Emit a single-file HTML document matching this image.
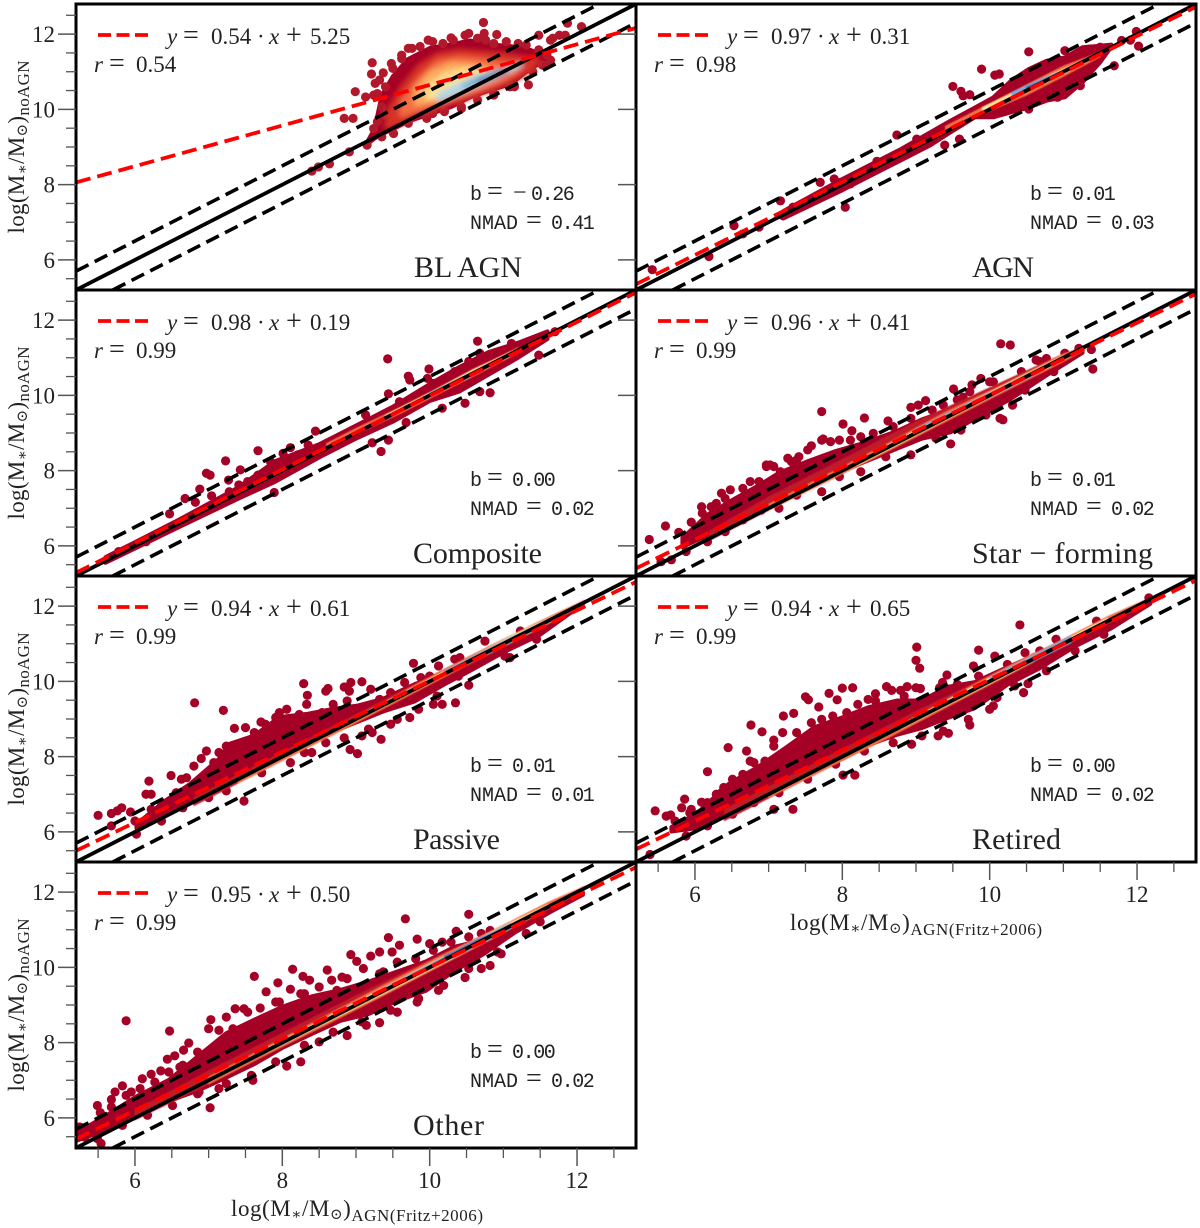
<!DOCTYPE html>
<html lang="en">
<head>
<meta charset="utf-8">
<title>Stellar mass comparison by galaxy class</title>
<style>
html,body{margin:0;padding:0;background:#fff}
svg{display:block}
text{font-family:"Liberation Serif","DejaVu Serif",serif;fill:#222}
.mono{font-family:"Liberation Mono","DejaVu Sans Mono",monospace}
</style>
</head>
<body>
<svg id="figure" xmlns="http://www.w3.org/2000/svg" width="1200" height="1228" viewBox="0 0 1200 1228">
  <defs>
    <filter id="soft-strong" x="-10%" y="-10%" width="120%" height="120%"><feGaussianBlur stdDeviation="3"/></filter>
    <filter id="soft-light" x="-5%" y="-5%" width="110%" height="110%"><feGaussianBlur stdDeviation="0.6"/></filter>
  </defs>
  <rect width="1200" height="1228" fill="#fff"/>
  <g id="panels"></g>
  <g id="labels">
    <text x="414" y="277" font-size="30" textLength="108">BL AGN</text>
    <text x="972" y="277" font-size="30" textLength="62">AGN</text>
    <text x="413" y="563" font-size="30" textLength="129">Composite</text>
    <text x="972" y="563" font-size="30" textLength="181">Star − forming</text>
    <text x="413" y="849" font-size="30" textLength="87">Passive</text>
    <text x="972" y="849" font-size="30" textLength="89">Retired</text>
    <text x="413" y="1135" font-size="30" textLength="71">Other</text>

    <text transform="translate(24,147) rotate(-90)" text-anchor="middle" font-size="23" textLength="173">log(M<tspan font-size="15" dy="3">∗</tspan><tspan dy="-3">/M</tspan><tspan font-size="15" dy="3">⊙</tspan><tspan dy="-3">)</tspan><tspan font-size="17" dy="5">noAGN</tspan></text>
    <text transform="translate(24,433) rotate(-90)" text-anchor="middle" font-size="23" textLength="173">log(M<tspan font-size="15" dy="3">∗</tspan><tspan dy="-3">/M</tspan><tspan font-size="15" dy="3">⊙</tspan><tspan dy="-3">)</tspan><tspan font-size="17" dy="5">noAGN</tspan></text>
    <text transform="translate(24,719) rotate(-90)" text-anchor="middle" font-size="23" textLength="173">log(M<tspan font-size="15" dy="3">∗</tspan><tspan dy="-3">/M</tspan><tspan font-size="15" dy="3">⊙</tspan><tspan dy="-3">)</tspan><tspan font-size="17" dy="5">noAGN</tspan></text>
    <text transform="translate(24,1005) rotate(-90)" text-anchor="middle" font-size="23" textLength="173">log(M<tspan font-size="15" dy="3">∗</tspan><tspan dy="-3">/M</tspan><tspan font-size="15" dy="3">⊙</tspan><tspan dy="-3">)</tspan><tspan font-size="17" dy="5">noAGN</tspan></text>

    <text x="231" y="1216" font-size="23" textLength="252">log(M<tspan font-size="15" dy="3">∗</tspan><tspan dy="-3">/M</tspan><tspan font-size="15" dy="3">⊙</tspan><tspan dy="-3">)</tspan><tspan font-size="17" dy="5">AGN(Fritz+2006)</tspan></text>
    <text x="790" y="930" font-size="23" textLength="252">log(M<tspan font-size="15" dy="3">∗</tspan><tspan dy="-3">/M</tspan><tspan font-size="15" dy="3">⊙</tspan><tspan dy="-3">)</tspan><tspan font-size="17" dy="5">AGN(Fritz+2006)</tspan></text>
  </g>
</svg>
<script>
/* ---------- tick values ---------- */
const majorTicks = [6, 8, 10, 12];
const minorTicks = [5.5, 6.5, 7, 7.5, 8.5, 9, 9.5, 10.5, 11, 11.5, 12.5];

/* ---------- fit statistics, one entry per panel ---------- */
const fitSlopes = [0.54, 0.97, 0.98, 0.96, 0.94, 0.94, 0.95];
const fitIntercepts = [5.25, 0.31, 0.19, 0.41, 0.61, 0.65, 0.50];
const fitR = [0.54, 0.98, 0.99, 0.99, 0.99, 0.99, 0.99];
const biasValues = [-0.26, 0.01, 0.00, 0.01, 0.01, 0.00, 0.00];
const nmadValues = [0.41, 0.03, 0.02, 0.02, 0.01, 0.02, 0.02];
const panelKeys = ['bl-agn', 'agn', 'composite', 'star-forming', 'passive', 'retired', 'other'];

/* ---------- individually visible points ---------- */
const blX = [8.40,8.49,8.64,8.91,8.84,8.96,8.99,9.13,9.24,9.22,9.21,9.26,9.37,9.5,9.98,10.29,10.53,10.73,10.74,10.91,10.76,11.34,12.06,11.87,11.67,11.76,11.84,11.48,11.64,11.53,11.37,11.09,11.04,11.2,9.71,9.62,10.04,10.43,10.87,11.64];
const blY = [8.36,8.47,8.55,8.87,9.76,9.76,10.47,10.33,10.38,11.24,10.94,10.69,10.97,11.09,11.84,11.9,12.02,12.31,12.02,11.99,11.84,10.65,12.2,12.29,11.89,11.97,11.97,11.97,11.31,11.18,11.09,10.6,11.8,11.75,11.62,11.35,9.89,10.07,10.42,11.84];
const blEdgeX = [9.32,9.48,9.62,9.76,9.87,10.04,10.18,10.32,10.48,10.65,10.87,11.31,11.48,11.59,9.29,9.4,9.35,9.29,9.37,9.24,9.15,9.35,9.51,9.71,9.96,10.2,10.43,10.65,10.87,11.15,11.4,11.59];
const blEdgeY = [10.78,11.22,11.44,11.62,11.67,11.8,11.75,11.84,11.97,11.89,11.75,11.71,11.58,11.44,10.42,10.6,10.07,9.67,9.85,9.49,9.05,9.27,9.36,9.63,9.76,9.94,10.02,10.25,10.38,10.6,11,11.18];

const agnX = [5.42,6.19,6.53,7.16,8.04,7.7,7.89,7.94,8.74,9.59,9.39,9.5,9.61,9.64,9.73,9.89,10.07,10.13,10.53,11.02,12.02,11.99,11.69,9.01,9.25,8.47,8.74,8.93,7.33,7.19,6.87,6.65,8.11,11.23,10.92,10.53,11.5,11.36,11.79,11.91];
const agnY = [5.74,6.09,6.91,7.57,7.4,8.06,8.15,8.06,9.32,9.21,9.05,10.61,10.48,10.36,10.39,11.07,10.91,10.94,11.53,11.56,11.68,12.07,11.16,9.21,9.36,8.62,8.81,8.9,7.4,7.18,6.87,6.69,8.02,10.63,10.32,10.01,11.65,11.6,11.83,11.84];
const agnEdgeX = [];
const agnEdgeY = [];

const compX = [6.47,6.68,6.82,6.88,7.04,6.97,7.02,7.23,7.27,7.41,7.43,7.67,7.89,8.11,8.45,9.22,9.34,9.44,9.43,9.71,9.73,9.99,9.68,10.65,10.82,10.48,11.48,9.97,10.17,9.13,9.44,8.71,8.35,8.21,8.01,7.84,7.67,7.53,7.28,7.14,6.9,6.75,6.58,6.15,5.78,9.59,10.34,10.53,10.68,11.11,11.5,11.7,10.05,10.68];
const compY = [6.85,7.26,7.16,7.51,7.33,7.93,7.88,8.26,7.75,7.62,8.02,8.53,7.42,8.61,9.05,8.74,8.51,8.81,10.97,10.51,10.41,10.7,9.28,11.44,10.07,9.79,11.07,10.45,9.66,9.48,10.04,8.81,8.68,8.42,8.46,8.24,7.88,7.71,7.44,7.13,6.87,6.73,6.56,6.11,5.85,9.83,10.63,10.9,11.12,11.38,11.52,11.69,10.32,10.1];
const compEdgeX = [];
const compEdgeY = [];

const sfX = [5.38,5.6,5.78,5.95,6.09,6.36,6.48,6.22,6.97,7.02,7.26,7.31,7.41,7.58,7.72,7.74,8.01,8.13,8.3,8.62,8.25,8.93,9.03,9.13,9.51,9.64,9.88,10,10.15,10.28,9.76,10.14,10.18,10.31,11.4,11.38,9.47,8.93,9.61,8.25,7.72,7.14,5.68,5.54,10.63,10.77,11.02,11.21,8.54,8.84];
const sfY = [6.17,6.53,6.36,6.63,7.04,7.4,7.49,7.04,8.15,8.15,8.33,8.24,8.37,8.66,9.57,8.84,9.24,9.06,9.4,9.32,8.9,9.68,9.74,9.86,10.17,9.95,10.45,10.36,11.37,11.34,10.28,9.39,9.35,9.74,10.7,11.22,8.71,8.42,9.08,7.97,7.44,7,5.63,5.58,10.94,10.98,11.12,11.25,8.64,8.81];
const sfEdgeX = [6.10,6.29,6.41,6.65,6.75,6.87,6.97,7.07,7.16,7.38,7.53,7.72,7.84,7.96,8.11,8.42,8.69,8.93,9.22,9.37,9.56,9.73,10.05,10.43,10.68,5.88,6.17,6.41,6.65,6.9,7.38,7.96,8.59,9.27,9.95,10.48,10.87];
const sfEdgeY = [6.87,7.13,7.26,7.53,7.71,7.71,8.11,8.11,7.97,8.28,8.55,8.81,8.77,8.81,8.81,8.99,9.17,9.39,9.61,9.74,9.88,10.1,10.36,10.63,10.9,5.85,6.11,6.38,6.69,6.95,7.35,7.84,8.37,8.86,9.48,10.14,10.63];

const passX = [5.5,5.68,5.68,5.82,5.76,5.94,6.19,6.15,6.22,6.49,6.9,6.97,6.81,7.2,7.35,7.5,7.71,8.29,8.34,8.59,8.62,8.84,8.93,9.08,8.91,9.2,9.78,10.35,10.17,10.05,9.34,8.92,9.02,7.48,9.47,9.73,10.53,10.12,10.41,10.75,11.23,11.09,8.06,7.91,8.33,8.69,9.27,9.66,10,6.7,6.8,8.3,8.59,9.08,9.17];
const passY = [6.44,6.16,6.49,6.64,6.56,6.53,7.35,7,7,7.5,7.95,8.15,9.43,9.23,8.75,8.77,8.92,9.94,9.63,9.74,9.81,9.85,9.97,9.99,9.74,9.79,10.48,9.43,9.39,9.39,8.46,8.19,8.08,6.82,8.86,9.04,9.9,10.41,10.63,11.07,11.34,10.63,9.26,9.04,9.39,9.39,9.35,9.97,10.14,7.44,7.75,8.11,8.37,8.55,8.73];
const passEdgeX = [6,6.22,6.36,6.56,6.63,7.07,7.14,7.24,7.62,7.77,7.96,8.23,8.54,8.88,9.32,9.47,9.88,10.34,6.02,6.36,6.65,7.0,7.24,7.72,8.11,8.4,8.84,9.22,9.56,9.85,10.1,10.39,11.02,11.45];
const passEdgeY = [6.29,6.6,6.78,7.04,7.4,7.84,8.11,8.28,8.64,8.86,9.17,9.12,9.17,9.48,9.52,9.7,10.1,10.59,5.94,6.29,6.64,6.91,7.09,7.57,7.84,8.11,8.5,8.64,8.99,9.26,9.61,10.14,10.67,11.12];

const retX = [5.46,5.61,5.67,5.39,5.82,5.86,5.95,6.09,6.17,6.29,6.39,6.45,6.7,6.76,6.91,7.07,7.2,7.34,7.5,7.54,7.68,7.82,7.93,8,8.14,8.45,8.6,8.67,8.79,8.88,9,9.06,9.01,9,9.05,9.36,9.42,9.85,10.07,10.41,9.78,10.48,10.46,10.52,10,9.73,9.44,9.3,8.94,8.17,8.01,7.33,7.07,10.05,10.1,8.21,8.35,7.58,7.19,6.75,6.51,10.68,10.9,11.45,12.16];
const retY = [6.56,6.42,6.45,5.4,6.64,6.87,6.6,6.79,7.6,7,7.18,8.24,8.15,8.84,8.66,8.44,9.08,9.15,9.59,9.51,9.32,9.68,9.51,9.82,9.83,9.67,9.86,9.76,9.76,9.86,9.83,9.81,10.91,10.56,10.35,9.97,10.17,10.83,10.67,11.5,10.41,10.76,9.7,9.94,9.26,8.84,8.62,8.55,8.33,7.51,7.51,6.6,6.6,9.7,9.57,9.39,9.52,8.9,8.64,7.88,7.4,10.81,11.12,11.6,12.22];
const retEdgeX = [5.73,5.93,6.17,6.36,6.65,6.8,6.95,7.07,7.38,7.72,7.87,8.06,8.45,8.84,9.32,9.56,9.85,10.24,5.88,6.17,6.51,6.8,7.14,7.53,7.91,8.3,8.69,9.08,9.37,9.71,10.05,10.34,10.77,11.16,11.55];
const retEdgeY = [6.29,6.51,6.78,7.04,7.53,7.84,7.88,8.28,8.64,8.99,9.08,9.17,9.48,9.61,9.83,9.92,10.14,10.45,5.89,6.16,6.47,6.78,7.04,7.4,7.8,8.15,8.37,8.55,8.68,8.99,9.35,9.88,10.28,10.81,11.25];

const othX = [5.25,5.49,5.53,5.68,5.73,5.83,5.88,6.1,6.22,6.35,6.47,6.44,6.54,6.66,6.73,7.02,7,7.03,7.24,7.36,7.48,7.7,7.62,7.78,7.94,8.14,8.11,8.28,8.37,8.61,8.67,8.81,8.93,9.01,9.1,9.2,9.32,9.44,9.59,9.49,9.67,9.83,10,10.17,10.36,10.53,10.7,10.82,10.48,10.12,9.83,9.56,9.32,9.14,8.88,8.25,8.06,7.6,10.97,10.7,11.5,5.32,5.54,9.37,8.74,8.25,7.96,7.33,6.85,6.61,6.27,5.95,6.87,7.14,8.5,11.16];
const othY = [5.76,6.33,6.14,6.49,6.69,6.85,8.58,7.04,7.16,7.25,8.31,7.56,7.65,7.8,7.99,6.27,8.37,8.61,8.68,8.9,8.9,8.92,9.76,9.35,9.59,9.95,9.42,9.76,9.66,9.93,9.66,9.74,10.34,10.16,9.97,10.3,10.41,10.79,10.59,10.41,11.29,10.75,10.63,10.67,10.96,11.41,9.97,10.05,9.73,9.39,9.08,8.81,8.53,8.46,8.19,7.49,7.38,7,10.36,10.9,11.21,5.49,5.32,9.88,9.39,9.3,9.08,8.37,7.75,7.35,6.95,6.69,6.69,6.78,8.02,11.12];
const othEdgeX = [5.68,5.88,6.07,6.46,6.65,7.14,7.53,7.91,8.3,8.5,8.88,9.32,9.56,9.81,10.05,10.29,10.53,10.82,5.49,5.83,6.17,6.51,6.85,7.24,7.58,7.91,8.3,8.69,9.08,9.47,9.85,10.19,10.53,10.92,11.31];
const othEdgeY = [6.29,6.6,6.78,7.22,7.4,8.33,8.81,9.08,9.3,9.48,9.7,9.83,10.14,10.23,10.45,10.67,10.81,10.98,5.45,5.8,6.07,6.33,6.64,6.91,7.13,7.49,7.93,8.28,8.55,8.86,9.17,9.52,9.97,10.41,10.9];

/* ---------- dense regions: outer envelope ---------- */
const blCloudX = [9.15,9.25,9.35,9.5,9.7,10,10.3,10.55,10.8,11.1,11.37,11.6];
const blCloudLo = [9.0,9.1,9.22,9.35,9.55,9.75,9.95,10.2,10.37,10.55,10.96,11.22];
const blCloudHi = [9.2,9.6,10.5,11.0,11.45,11.75,11.85,11.95,11.85,11.8,11.7,11.5];

const agnCloudX = [7.2,8.0,8.8,9.2,9.47,9.8,10.05,10.29,10.53,10.77,11.02,11.26,11.5,11.65];
const agnCloudLo = [7.1,7.85,8.65,9.05,9.39,9.79,9.79,9.92,10.05,10.23,10.32,10.72,11.25,11.66];
const agnCloudHi = [7.3,8.15,8.95,9.4,9.7,10.05,10.32,10.76,11.07,11.29,11.38,11.65,11.69,11.72];

const compCloudX = [5.6,6.6,7.4,7.9,8.5,9.0,9.5,10.0,10.4,10.8,11.2,11.6];
const compCloudLo = [5.55,6.5,7.25,7.7,8.35,8.85,9.3,9.85,10.1,10.55,11.0,11.5];
const compCloudHi = [5.7,6.7,7.55,8.25,8.7,9.2,9.7,10.3,10.75,11.15,11.4,11.7];

const sfCloudX = [5.83,6.17,6.56,6.85,7.14,7.53,7.91,8.3,8.74,9.08,9.47,9.8,10.29,10.77,11.26];
const sfCloudLo = [5.85,6.16,6.56,6.87,7.13,7.44,7.8,8.11,8.46,8.73,8.9,9.26,9.79,10.41,11.07];
const sfCloudHi = [6.33,6.95,7.4,7.71,8.06,8.37,8.64,8.86,9.17,9.48,9.74,10.01,10.41,10.81,11.25];

const passCloudX = [6.02,6.41,6.75,7.14,7.28,7.62,7.96,8.35,8.69,9.03,9.37,9.8,10.19,10.53,11.02,11.5,11.99];
const passCloudLo = [5.98,6.38,6.69,7.04,7.13,7.49,7.84,8.24,8.55,8.81,9.08,9.35,9.79,10.14,10.67,11.12,11.83];
const passCloudHi = [6.33,6.95,7.4,8.06,8.46,8.68,9.17,9.26,9.39,9.48,9.66,10.05,10.32,10.67,11.16,11.56,12.09];

const retCloudX = [5.68,6.02,6.46,6.85,7.24,7.62,8.01,8.35,8.74,9.08,9.42,9.8,10.24,10.68,11.16,11.65,12.18];
const retCloudLo = [5.89,5.98,6.42,6.78,7.13,7.49,7.84,8.19,8.46,8.64,8.9,9.17,9.79,10.23,10.81,11.29,11.96];
const retCloudHi = [6.25,6.6,7.4,7.84,8.37,8.9,9.17,9.43,9.61,9.61,9.97,10.1,10.5,10.85,11.29,11.69,12.22];

const othCloudX = [5.2,5.59,6.02,6.46,6.85,7.24,7.62,8.01,8.4,8.79,9.17,9.56,9.95,10.34,10.73,11.16,11.65,12.08];
const othCloudLo = [5.27,5.54,5.98,6.33,6.6,6.95,7.31,7.75,8.11,8.46,8.64,8.99,9.26,9.79,10.23,10.81,11.38,11.87];
const othCloudHi = [5.71,6.16,6.69,7.13,7.75,8.37,8.73,9.08,9.35,9.52,9.74,10.01,10.28,10.67,10.85,11.25,11.65,12.05];

/* ---------- density levels inside each cloud ---------- */
const densityColors = ['#d73027','#f46d43','#fdae61','#fee090','#abd9e9','#74add1','#4575b4','#bf1a2b'];

const blBandLevels = [0,1,2,3,4,5,6];
const blBandX = [[9.4,9.6,9.85,10.1,10.4,10.7,11,11.3,11.5],[9.6,9.85,10.1,10.4,10.7,11,11.2],[9.8,10.0,10.3,10.6,10.9],[9.95,10.2,10.5,10.8],[10.1,10.4,10.7,11,11.25],[10.45,10.75,11.05],[10.65,10.85,11.05]];
const blBandLo = [[9.45,9.6,9.85,10.0,10.2,10.4,10.62,10.9,11.25],[9.8,9.95,10.1,10.3,10.5,10.75,11.0],[10.1,10.2,10.38,10.6,10.8],[10.25,10.33,10.52,10.78],[10.2,10.42,10.66,10.92,11.15],[10.55,10.75,10.98],[10.7,10.84,11.0]];
const blBandHi = [[9.9,10.6,11.2,11.5,11.6,11.55,11.5,11.4,11.35],[10.2,10.85,11.3,11.4,11.35,11.25,11.2],[10.55,11.0,11.25,11.2,11.05],[10.6,10.95,11.1,11.0],[10.4,10.7,10.95,11.08,11.22],[10.68,10.93,11.1],[10.8,10.94,11.05]];

const agnBandLevels = [1,3,5,6];
const agnBandX = [[9.4,9.9,10.5,11.0,11.5],[9.9,10.4,10.9,11.3],[10.3,10.6,10.95],[10.5,10.75,10.95]];
const agnBandLo = [[9.42,9.88,10.38,10.88,11.4],[9.92,10.38,10.85,11.26],[10.35,10.6,10.92],[10.55,10.72,10.93]];
const agnBandHi = [[9.55,10.05,10.65,11.15,11.52],[10.05,10.52,10.98,11.32],[10.45,10.72,11.0],[10.6,10.8,10.98]];

const compBandLevels = [1,3,5];
const compBandX = [[8.6,9,9.6,10.1,10.7,11.2],[9.4,10,10.6,11.1],[10.0,10.4,10.7]];
const compBandLo = [[8.6,8.97,9.52,10.02,10.62,11.13],[9.38,9.97,10.58,11.05],[10.0,10.36,10.63]];
const compBandHi = [[8.72,9.12,9.68,10.17,10.78,11.27],[9.47,10.07,10.7,11.15],[10.06,10.44,10.7]];

const sfBandLevels = [7,1,3,5];
const sfBandX = [[6.2,7,8,9,10,11],[7.0,7.8,8.6,9.4,10.2,11,11.3],[8.2,9,9.8,10.4,11],[9,9.6,10.2,10.7]];
const sfBandLo = [[6.15,6.95,7.95,8.95,9.95,10.95],[6.95,7.72,8.5,9.3,10.1,10.9,11.22],[8.14,8.95,9.76,10.35,10.95],[9.02,9.58,10.14,10.65]];
const sfBandHi = [[6.4,7.3,8.3,9.3,10.2,11.1],[7.1,7.9,8.7,9.55,10.3,11.1,11.3],[8.22,9.07,9.88,10.47,11.05],[9.1,9.68,10.25,10.73]];

const passBandLevels = [7,1,3,5,6];
const passBandX = [[6.8,7.6,8.4,9.2,10,10.8,11.5,12.1],[7.4,8.2,9,9.8,10.6,11.4,12.1],[9,9.8,10.6,11.2,11.7],[10.2,10.8,11.3,11.6],[10.5,11,11.4]];
const passBandLo = [[6.7,7.5,8.3,9.1,9.9,10.7,11.4,12.05],[7.3,8.1,8.9,9.72,10.55,11.33,12.05],[8.97,9.77,10.58,11.14,11.66],[10.2,10.75,11.24,11.55],[10.52,10.98,11.38]];
const passBandHi = [[6.92,7.72,8.52,9.32,10.12,10.92,11.6,12.15],[7.38,8.2,9.03,9.9,10.72,11.5,12.15],[9.03,9.85,10.68,11.3,11.74],[10.27,10.87,11.36,11.6],[10.56,11.04,11.42]];

const retBandLevels = [7,1,3,5,6];
const retBandX = [[6.4,7.2,8,9,10,10.6],[7,7.8,8.6,9.4,10.2,11,11.6,12.1],[8.8,9.6,10.4,11,11.6],[10,10.6,11.1],[10.7,11.0,11.2]];
const retBandLo = [[6.3,7.1,7.9,8.9,9.9,10.5],[6.92,7.7,8.48,9.3,10.12,10.95,11.55,12.05],[8.76,9.55,10.35,10.95,11.58],[10.02,10.54,11.02],[10.68,10.98,11.18]];
const retBandHi = [[6.6,7.4,8.2,9.2,10.15,10.75],[7.02,7.82,8.62,9.5,10.35,11.12,11.72,12.15],[8.82,9.68,10.5,11.08,11.68],[10.1,10.7,11.2],[10.74,11.04,11.24]];

const othBandLevels = [7,1,3,5,6];
const othBandX = [[6,7,8,9,10,11],[7,7.8,8.6,9.4,10.2,11,11.6,12.1],[7.8,8.6,9.4,10.2,10.9,11.6],[9.4,10,10.6,11.1],[10.2,10.7,11]];
const othBandLo = [[5.95,6.9,7.9,8.9,9.9,10.9],[6.9,7.7,8.48,9.28,10.1,10.92,11.55,12.05],[7.76,8.54,9.33,10.13,10.85,11.58],[9.4,9.96,10.54,11.03],[10.22,10.68,10.96]];
const othBandHi = [[6.2,7.25,8.25,9.25,10.2,11.1],[7.08,7.9,8.72,9.55,10.35,11.12,11.72,12.15],[7.85,8.66,9.48,10.3,11.0,11.66],[9.47,10.08,10.7,11.17],[10.3,10.78,11.02]];

/* ---------- one-to-one line and its scatter limits ---------- */
const axisMin = 5.2;
const axisMax = 12.8;
const scatterLimit = 0.5;

/* ---------- drawing ---------- */
const NS = 'http://www.w3.org/2000/svg';
const panelsRoot = document.getElementById('panels');
const PW = 560, PH = 286, PLEFT = [76, 636], PTOP = [4, 290, 576, 862];

function make(parent, tag, attrs, text) {
  const el = document.createElementNS(NS, tag);
  for (const k in attrs) el.setAttribute(k, attrs[k]);
  if (text !== undefined) el.textContent = text;
  parent.appendChild(el);
  return el;
}

const pointSets = [[blX,blY],[agnX,agnY],[compX,compY],[sfX,sfY],[passX,passY],[retX,retY],[othX,othY]];
const edgeSets = [[blEdgeX,blEdgeY],[agnEdgeX,agnEdgeY],[compEdgeX,compEdgeY],[sfEdgeX,sfEdgeY],[passEdgeX,passEdgeY],[retEdgeX,retEdgeY],[othEdgeX,othEdgeY]];
const cloudSets = [[blCloudX,blCloudLo,blCloudHi],[agnCloudX,agnCloudLo,agnCloudHi],[compCloudX,compCloudLo,compCloudHi],[sfCloudX,sfCloudLo,sfCloudHi],[passCloudX,passCloudLo,passCloudHi],[retCloudX,retCloudLo,retCloudHi],[othCloudX,othCloudLo,othCloudHi]];
const bandSets = [[blBandLevels,blBandX,blBandLo,blBandHi],[agnBandLevels,agnBandX,agnBandLo,agnBandHi],[compBandLevels,compBandX,compBandLo,compBandHi],[sfBandLevels,sfBandX,sfBandLo,sfBandHi],[passBandLevels,passBandX,passBandLo,passBandHi],[retBandLevels,retBandX,retBandLo,retBandHi],[othBandLevels,othBandX,othBandLo,othBandHi]];

function envelope(sx, sy, xs, lo, hi, inset) {
  const top = [], bottom = [];
  for (let i = 0; i < xs.length; i++) {
    const d = Math.max(0, Math.min(inset, (hi[i] - lo[i]) / 2 - 0.03));
    top.push(sx(xs[i]) + ',' + sy(hi[i] - d));
    bottom.unshift(sx(xs[i]) + ',' + sy(lo[i] + d));
  }
  return top.concat(bottom).join(' ');
}

function drawPanel(i) {
  const col = i % 2, row = Math.floor(i / 2);
  const left = PLEFT[col], top = PTOP[row], key = panelKeys[i];
  const sx = v => left + (v - axisMin) / (axisMax - axisMin) * PW;
  const sy = v => top + (axisMax - v) / (axisMax - axisMin) * PH;

  const g = make(panelsRoot, 'g', {});
  
  

  const clip = make(g, 'clipPath', { id: 'clip-' + i });
  make(clip, 'rect', { x: left, y: top, width: PW, height: PH });
  const plot = make(g, 'g', { 'clip-path': 'url(#clip-' + i + ')' });
  
  

  /* dense cloud */
  const hasEdge = edgeSets[i][0].length > 0;
  const cloud = cloudSets[i];
  const cloudEl = make(plot, 'polygon', { points: envelope(sx, sy, cloud[0], cloud[1], cloud[2], hasEdge ? 0.12 : 0), fill: '#a50026', stroke: '#a50026', 'stroke-width': 4, 'stroke-linejoin': 'round' });
  
  

  /* individual points and cloud edge points */
  const bright = i === 0 ? '#b2182b' : '#a50026';
  [pointSets[i], edgeSets[i]].forEach(set => {
    for (let p = 0; p < set[0].length; p++) {
      const dot = make(plot, 'circle', { cx: sx(set[0][p]), cy: sy(set[1][p]), r: 4.6, fill: bright });
      
      
    }
  });

  /* density levels */
  const bandGroup = make(plot, 'g', { filter: i === 0 ? 'url(#soft-strong)' : 'url(#soft-light)' });
  
  
  const bands = bandSets[i];
  for (let b = 0; b < bands[0].length; b++) {
    const color = densityColors[bands[0][b]];
    const band = make(bandGroup, 'polygon', { points: envelope(sx, sy, bands[1][b], bands[2][b], bands[3][b], 0), fill: color, stroke: color, 'stroke-width': 1, 'stroke-linejoin': 'round' });
    
    
  }

  /* reference lines */
  const unity = make(plot, 'line', { x1: sx(axisMin), y1: sy(axisMin), x2: sx(axisMax), y2: sy(axisMax), stroke: '#000', 'stroke-width': 3.8 });
  
  

  const upper = make(plot, 'line', { x1: sx(axisMin), y1: sy(axisMin + scatterLimit), x2: sx(axisMax - scatterLimit), y2: sy(axisMax), stroke: '#000', 'stroke-width': 3.6, 'stroke-dasharray': '14 7' });
  
  

  const lower = make(plot, 'line', { x1: sx(axisMin + scatterLimit), y1: sy(axisMin), x2: sx(axisMax), y2: sy(axisMax - scatterLimit), stroke: '#000', 'stroke-width': 3.6, 'stroke-dasharray': '14 7' });
  
  

  const m = fitSlopes[i], c = fitIntercepts[i];
  const fit = make(plot, 'line', { x1: sx(axisMin), y1: sy(m * axisMin + c), x2: sx(axisMax), y2: sy(m * axisMax + c), stroke: '#f00', 'stroke-width': 3.8, 'stroke-dasharray': '15 7' });
  
  

  /* frame */
  const frame = make(g, 'rect', { x: left, y: top, width: PW, height: PH, fill: 'none', stroke: '#000', 'stroke-width': 3 });
  
  

  /* y ticks: the right column's only show through as major marks */
  majorTicks.forEach(v => {
    const t = make(g, 'line', { x1: left - 18, x2: left, y1: sy(v), y2: sy(v), stroke: '#555', 'stroke-width': 1.5 });
    
    
    if (col === 0) {
      const lab = make(g, 'text', { x: 55, y: sy(v) + 8, 'text-anchor': 'end', 'font-size': 23 }, String(v));
      
      
    }
  });
  if (col === 0) minorTicks.forEach(v => {
    const t = make(g, 'line', { x1: left - 10, x2: left, y1: sy(v), y2: sy(v), stroke: '#555', 'stroke-width': 1.3 });
    
    
  });

  /* x ticks on the bottom panel of each column */
  if (i === 5 || i === 6) {
    const base = top + PH;
    majorTicks.forEach(v => {
      const t = make(g, 'line', { x1: sx(v), x2: sx(v), y1: base, y2: base + 18, stroke: '#555', 'stroke-width': 1.5 });
      
      
      const lab = make(g, 'text', { x: sx(v), y: base + 40, 'text-anchor': 'middle', 'font-size': 23 }, String(v));
      
      
    });
    minorTicks.forEach(v => {
      const t = make(g, 'line', { x1: sx(v), x2: sx(v), y1: base, y2: base + 10, stroke: '#555', 'stroke-width': 1.3 });
      
      
    });
  }

  /* legend */
  const key1 = make(g, 'line', { x1: left + 22, x2: left + 72, y1: top + 31, y2: top + 31, stroke: '#f00', 'stroke-width': 3.8, 'stroke-dasharray': '13 5.5 13 5.5 13' });
  
  

  const eq = make(g, 'text', { x: left + 91, y: top + 40, 'font-size': 23 });
  
  
  make(eq, 'tspan', { x: left + 91, 'font-style': 'italic' }, 'y');
  make(eq, 'tspan', { x: left + 107, 'font-size': 28 }, '=');
  make(eq, 'tspan', { x: left + 135 }, m.toFixed(2));
  make(eq, 'tspan', { x: left + 181 }, '\u00b7');
  make(eq, 'tspan', { x: left + 193, 'font-style': 'italic' }, 'x');
  make(eq, 'tspan', { x: left + 210, 'font-size': 28 }, '+');
  make(eq, 'tspan', { x: left + 234 }, c.toFixed(2));

  const rt = make(g, 'text', { x: left + 18, y: top + 68, 'font-size': 23 });
  
  
  make(rt, 'tspan', { x: left + 18, 'font-style': 'italic' }, 'r');
  make(rt, 'tspan', { x: left + 33, 'font-size': 28 }, '=');
  make(rt, 'tspan', { x: left + 60 }, fitR[i].toFixed(2));

  /* statistics */
  const bt = make(g, 'text', { x: left + 394, y: top + 196, 'font-size': 20 });
  
  
  make(bt, 'tspan', { class: 'mono', x: left + 394 }, 'b');
  make(bt, 'tspan', { x: left + 411, 'font-size': 28 }, '=');
  if (biasValues[i] < 0) make(bt, 'tspan', { x: left + 437, 'font-size': 24 }, '\u2212');
  make(bt, 'tspan', { class: 'mono', x: left + (biasValues[i] < 0 ? 455 : 436), style: 'letter-spacing:-1.4px' }, Math.abs(biasValues[i]).toFixed(2));

  const nt = make(g, 'text', { x: left + 394, y: top + 225, 'font-size': 20 });
  
  
  make(nt, 'tspan', { class: 'mono', x: left + 394 }, 'NMAD');
  make(nt, 'tspan', { x: left + 450, 'font-size': 28 }, '=');
  make(nt, 'tspan', { class: 'mono', x: left + 475, style: 'letter-spacing:-1.4px' }, nmadValues[i].toFixed(2));
}

panelKeys.forEach((_, i) => drawPanel(i));
</script>
</body>
</html>
